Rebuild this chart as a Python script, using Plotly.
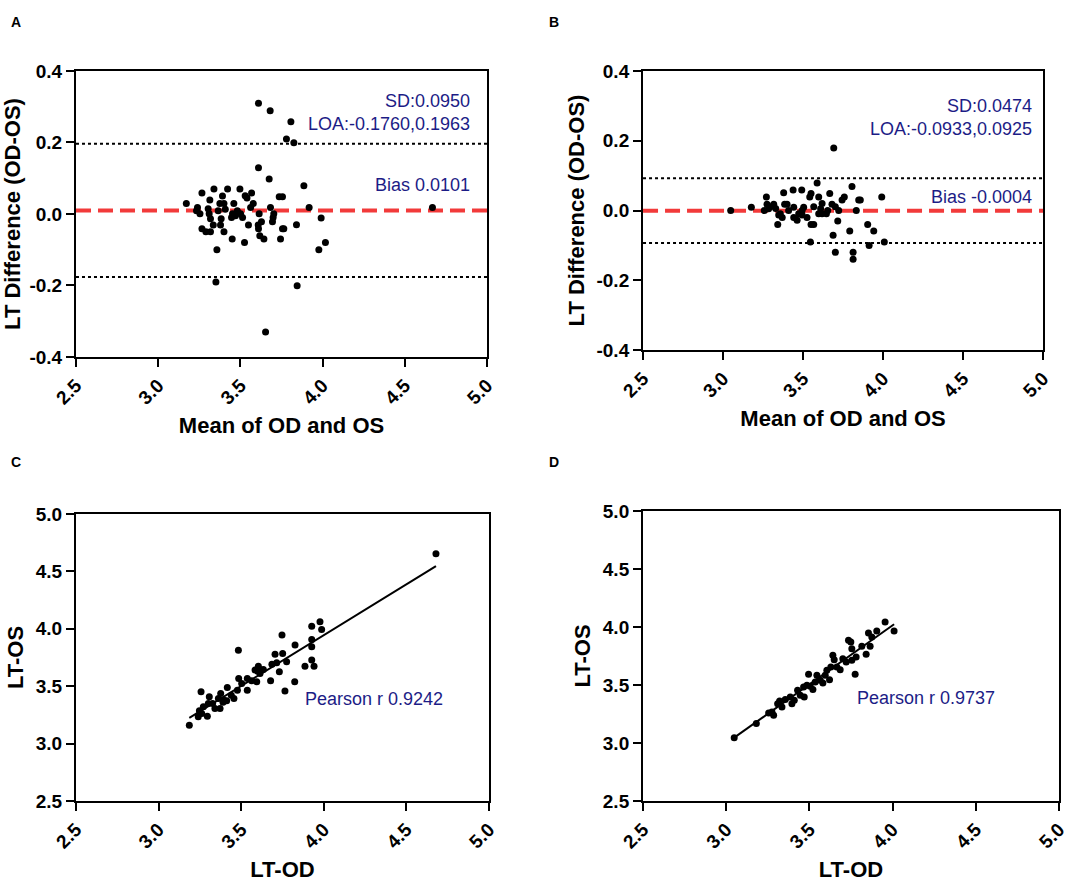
import plotly.graph_objects as go

# ---- panel A: Bland-Altman, mean vs difference ----
a_mean = [3.610, 3.681, 3.807, 3.780, 3.825, 3.610, 3.675, 3.886, 3.918, 4.668,
          3.991, 3.841, 4.017, 3.977, 3.351, 3.845, 3.653, 3.357,
          3.171, 3.239, 3.233, 3.254, 3.266, 3.314, 3.304, 3.310, 3.318, 3.339,
          3.335, 3.365, 3.375, 3.383, 3.379, 3.391, 3.400, 3.408, 3.422, 3.400,
          3.266, 3.290, 3.318, 3.452, 3.446, 3.460, 3.450, 3.481, 3.497, 3.501,
          3.513, 3.529, 3.549, 3.562, 3.568, 3.578, 3.525, 3.614, 3.608, 3.610,
          3.618, 3.628, 3.643, 3.683, 3.703, 3.699, 3.695, 3.736, 3.756, 3.744,
          3.756, 3.764, 3.540, 3.470]
a_diff = [0.310, 0.289, 0.258, 0.210, 0.199, 0.129, 0.098, 0.079, 0.018, 0.018,
          -0.011, -0.030, -0.080, -0.100, -0.190, -0.201, -0.330, -0.100,
          0.029, 0.018, 0.009, 0.001, 0.059, 0.039, 0.015, 0.001, -0.013, 0.070,
          -0.031, 0.009, 0.029, -0.013, -0.031, 0.050, 0.029, 0.013, 0.070, -0.050,
          -0.041, -0.050, -0.050, 0.001, -0.010, 0.029, -0.070, 0.009, 0.070, 0.001,
          -0.010, 0.051, -0.031, 0.018, 0.059, 0.029, -0.080, 0.001, -0.031, -0.041,
          -0.061, -0.022, -0.070, 0.018, 0.001, -0.010, -0.022, 0.048, 0.048, -0.070,
          -0.041, -0.041, 0.045, -0.005]
a_bias = 0.0101
a_loa = [-0.1760, 0.1963]
a_sd = "0.0950"

# ---- panel B ----
b_mean = [3.048, 3.177, 3.271, 3.258, 3.275, 3.296, 3.317, 3.329, 3.342, 3.358,
          3.379, 3.385, 3.400, 3.410, 3.438, 3.442, 3.442, 3.473, 3.492, 3.494,
          3.504, 3.525, 3.542, 3.550, 3.550, 3.567, 3.546, 3.567, 3.588, 3.598,
          3.598, 3.619, 3.619, 3.646, 3.654, 3.667, 3.681, 3.692, 3.702, 3.688,
          3.702, 3.717, 3.723, 3.744, 3.758, 3.792, 3.806, 3.813, 3.813, 3.833,
          3.848, 3.858, 3.904, 3.913, 3.942, 3.992, 4.008, 3.348, 3.463, 3.494,
          3.285, 3.370, 3.610]
b_diff = [0.000, 0.009, 0.039, 0.000, 0.018, 0.011, 0.018, 0.006, -0.040, -0.009,
          0.051, 0.018, 0.018, 0.000, 0.059, 0.009, -0.020, -0.009, 0.059, 0.000,
          0.009, -0.020, 0.039, 0.049, -0.040, -0.040, -0.090, 0.011, 0.079, 0.039,
          -0.009, 0.020, -0.009, -0.009, 0.000, 0.049, 0.018, 0.179, 0.011, -0.071,
          -0.120, -0.030, 0.000, 0.030, 0.039, -0.059, 0.069, -0.120, -0.140, 0.000,
          0.030, 0.030, -0.040, -0.100, -0.059, 0.039, -0.090, -0.013, -0.028, -0.013,
          0.005, -0.020, 0.005]
b_bias = -0.0004
b_loa = [-0.0933, 0.0925]
b_sd = "0.0474"

# ---- panel C: correlation, LT-OD vs LT-OS ----
c_od = [3.186, 4.679, 3.483, 3.257, 3.247, 3.240, 3.261, 3.271, 3.295, 3.307,
        3.301, 3.327, 3.341, 3.362, 3.376, 3.372, 3.396, 3.416, 3.412, 3.456,
        3.485, 3.477, 3.503, 3.537, 3.537, 3.563, 3.584, 3.594, 3.604, 3.614,
        3.634, 3.678, 3.686, 3.705, 3.715, 3.731, 3.751, 3.747, 3.765, 3.775,
        3.826, 3.824, 3.886, 3.927, 3.927, 3.927, 3.927, 3.941, 3.977, 3.987,
        3.440, 3.390, 3.600]
c_os = [3.160, 4.654, 3.814, 3.451, 3.285, 3.233, 3.262, 3.320, 3.238, 3.407,
        3.349, 3.349, 3.305, 3.392, 3.436, 3.305, 3.378, 3.488, 3.372, 3.392,
        3.567, 3.465, 3.523, 3.465, 3.567, 3.547, 3.640, 3.538, 3.674, 3.610,
        3.645, 3.547, 3.692, 3.779, 3.703, 3.625, 3.785, 3.945, 3.459, 3.712,
        3.858, 3.538, 3.674, 4.023, 3.907, 3.843, 3.727, 3.674, 4.061, 3.994,
        3.420, 3.360, 3.630]
c_fit = (0.886, 0.401)   # slope, intercept
c_r = "0.9242"

# ---- panel D ----
d_od = [3.048, 3.181, 3.255, 3.275, 3.285, 3.309, 3.321, 3.335, 3.355, 3.385,
        3.395, 3.409, 3.429, 3.445, 3.465, 3.469, 3.485, 3.495, 3.505, 3.521,
        3.535, 3.545, 3.565, 3.581, 3.595, 3.605, 3.621, 3.629, 3.641, 3.649,
        3.665, 3.685, 3.701, 3.721, 3.735, 3.749, 3.755, 3.755, 3.775, 3.781,
        3.815, 3.841, 3.855, 3.865, 3.905, 3.955, 4.009, 3.875]
d_os = [3.046, 3.167, 3.259, 3.267, 3.239, 3.339, 3.362, 3.310, 3.374, 3.397,
        3.339, 3.368, 3.454, 3.411, 3.483, 3.397, 3.497, 3.592, 3.489, 3.460,
        3.526, 3.583, 3.540, 3.517, 3.583, 3.626, 3.546, 3.655, 3.756, 3.718,
        3.655, 3.632, 3.727, 3.698, 3.885, 3.871, 3.813, 3.713, 3.592, 3.741,
        3.833, 3.764, 3.948, 3.833, 3.966, 4.043, 3.966, 3.914]
d_fit = (1.017, -0.054)
d_r = "0.9737"

ticks = [2.5, 3.0, 3.5, 4.0, 4.5, 5.0]
diff_ticks = [-0.4, -0.2, 0.0, 0.2, 0.4]

FONT = "Liberation Sans"
NAVY = "#1c1c86"
dot = dict(color="black", size=7)

fig = go.Figure()

# Bland-Altman panels
for i, (xm, yd, bias, loa, sd) in enumerate(
    [(a_mean, a_diff, a_bias, a_loa, a_sd), (b_mean, b_diff, b_bias, b_loa, b_sd)]
):
    xa = "x" if i == 0 else "x2"
    ya = "y" if i == 0 else "y2"
    for v in loa:
        fig.add_trace(go.Scatter(x=[2.5, 5.0], y=[v, v], mode="lines", xaxis=xa, yaxis=ya,
                                 line=dict(color="black", width=2, dash="3px,3px")))
    fig.add_trace(go.Scatter(x=[2.5, 5.0], y=[bias, bias], mode="lines", xaxis=xa, yaxis=ya,
                             line=dict(color="#f23a3a", width=4, dash="15px,7px")))
    fig.add_trace(go.Scatter(x=xm, y=yd, mode="markers", xaxis=xa, yaxis=ya, marker=dot))

# correlation panels
for i, (xo, yo, fit) in enumerate([(c_od, c_os, c_fit), (d_od, d_os, d_fit)]):
    xa = "x3" if i == 0 else "x4"
    ya = "y3" if i == 0 else "y4"
    lo, hi = min(xo), max(xo)
    fig.add_trace(go.Scatter(x=[lo, hi], y=[fit[0] * lo + fit[1], fit[0] * hi + fit[1]],
                             mode="lines", xaxis=xa, yaxis=ya,
                             line=dict(color="black", width=2)))
    fig.add_trace(go.Scatter(x=xo, y=yo, mode="markers", xaxis=xa, yaxis=ya, marker=dot))

axis_common = dict(
    showline=True, linecolor="black", linewidth=2, mirror=True,
    ticks="outside", ticklen=8, tickwidth=2, tickcolor="black",
    showgrid=False, zeroline=False, automargin=False,
    tickfont=dict(family=FONT, size=19, color="black", weight="bold"),
    title_font=dict(family=FONT, size=22, color="black", weight="bold"),
)
xdom = {"x": [0.0701, 0.4493], "x2": [0.5932, 0.9622], "x3": [0.0701, 0.4511], "x4": [0.5932, 0.9769]}
ydom = {"y": [0.5957, 0.9196], "y2": [0.6036, 0.9196], "y3": [0.0929, 0.4179], "y4": [0.0929, 0.4213]}
xtitles = {"x": "Mean of OD and OS", "x2": "Mean of OD and OS", "x3": "LT-OD", "x4": "LT-OD"}
ytitles = {"y": "LT Difference (OD-OS)", "y2": "LT Difference (OD-OS)", "y3": "LT-OS", "y4": "LT-OS"}

layout_axes = {}
for k, (xk, yk) in enumerate(zip(xdom, ydom)):
    n = "" if k == 0 else str(k + 1)
    layout_axes["xaxis" + n] = dict(axis_common, domain=xdom[xk], range=[2.5, 5.0],
                                    tickvals=ticks, ticktext=[f"{t:.1f}" for t in ticks],
                                    tickangle=-45, anchor=yk, title_text=xtitles[xk],
                                    title_standoff=10)
    if k < 2:
        yr, yt = [-0.4, 0.4], diff_ticks
    else:
        yr, yt = [2.5, 5.0], ticks
    layout_axes["yaxis" + n] = dict(axis_common, domain=ydom[yk], range=yr,
                                    tickvals=yt, ticktext=[f"{t:.1f}" for t in yt],
                                    anchor=xk, title_text=ytitles[yk], title_standoff=6)

ann_font = dict(family=FONT, size=18, color=NAVY)
annotations = [
    dict(text="SD:" + a_sd, x=4.91, y=0.316, xref="x", yref="y", xanchor="right"),
    dict(text=f"LOA:{a_loa[0]:.4f},{a_loa[1]:.4f}", x=4.91, y=0.253, xref="x", yref="y", xanchor="right"),
    dict(text=f"Bias {a_bias:.4f}", x=4.91, y=0.081, xref="x", yref="y", xanchor="right"),
    dict(text="SD:" + b_sd, x=4.946, y=0.300, xref="x2", yref="y2", xanchor="right"),
    dict(text=f"LOA:{b_loa[0]:.4f},{b_loa[1]:.4f}", x=4.946, y=0.235, xref="x2", yref="y2", xanchor="right"),
    dict(text=f"Bias {b_bias:.4f}", x=4.946, y=0.039, xref="x2", yref="y2", xanchor="right"),
    dict(text="Pearson r " + c_r, x=3.876, y=3.384, xref="x3", yref="y3", xanchor="left"),
    dict(text="Pearson r " + d_r, x=3.775, y=3.391, xref="x4", yref="y4", xanchor="left"),
]
for a in annotations:
    a.update(showarrow=False, font=ann_font, yanchor="middle")

letter_font = dict(family=FONT, size=14, color="black", weight="bold")
for txt, px, py in [("A", 9, 22), ("B", 547, 22), ("C", 9, 462), ("D", 547, 462)]:
    annotations.append(dict(text=txt, x=px / 1084, y=1 - py / 883, xref="paper", yref="paper",
                            xanchor="left", yanchor="middle", showarrow=False, font=letter_font))

fig.update_layout(
    width=1084, height=883,
    margin=dict(l=0, r=0, t=0, b=0),
    paper_bgcolor="white", plot_bgcolor="white",
    showlegend=False,
    annotations=annotations,
    **layout_axes,
)

# page body has a default margin; drop it so the figure sits at the window corner
fig.write_html("out.html", config={"displayModeBar": False},
               post_script="document.body.style.margin='0';")
